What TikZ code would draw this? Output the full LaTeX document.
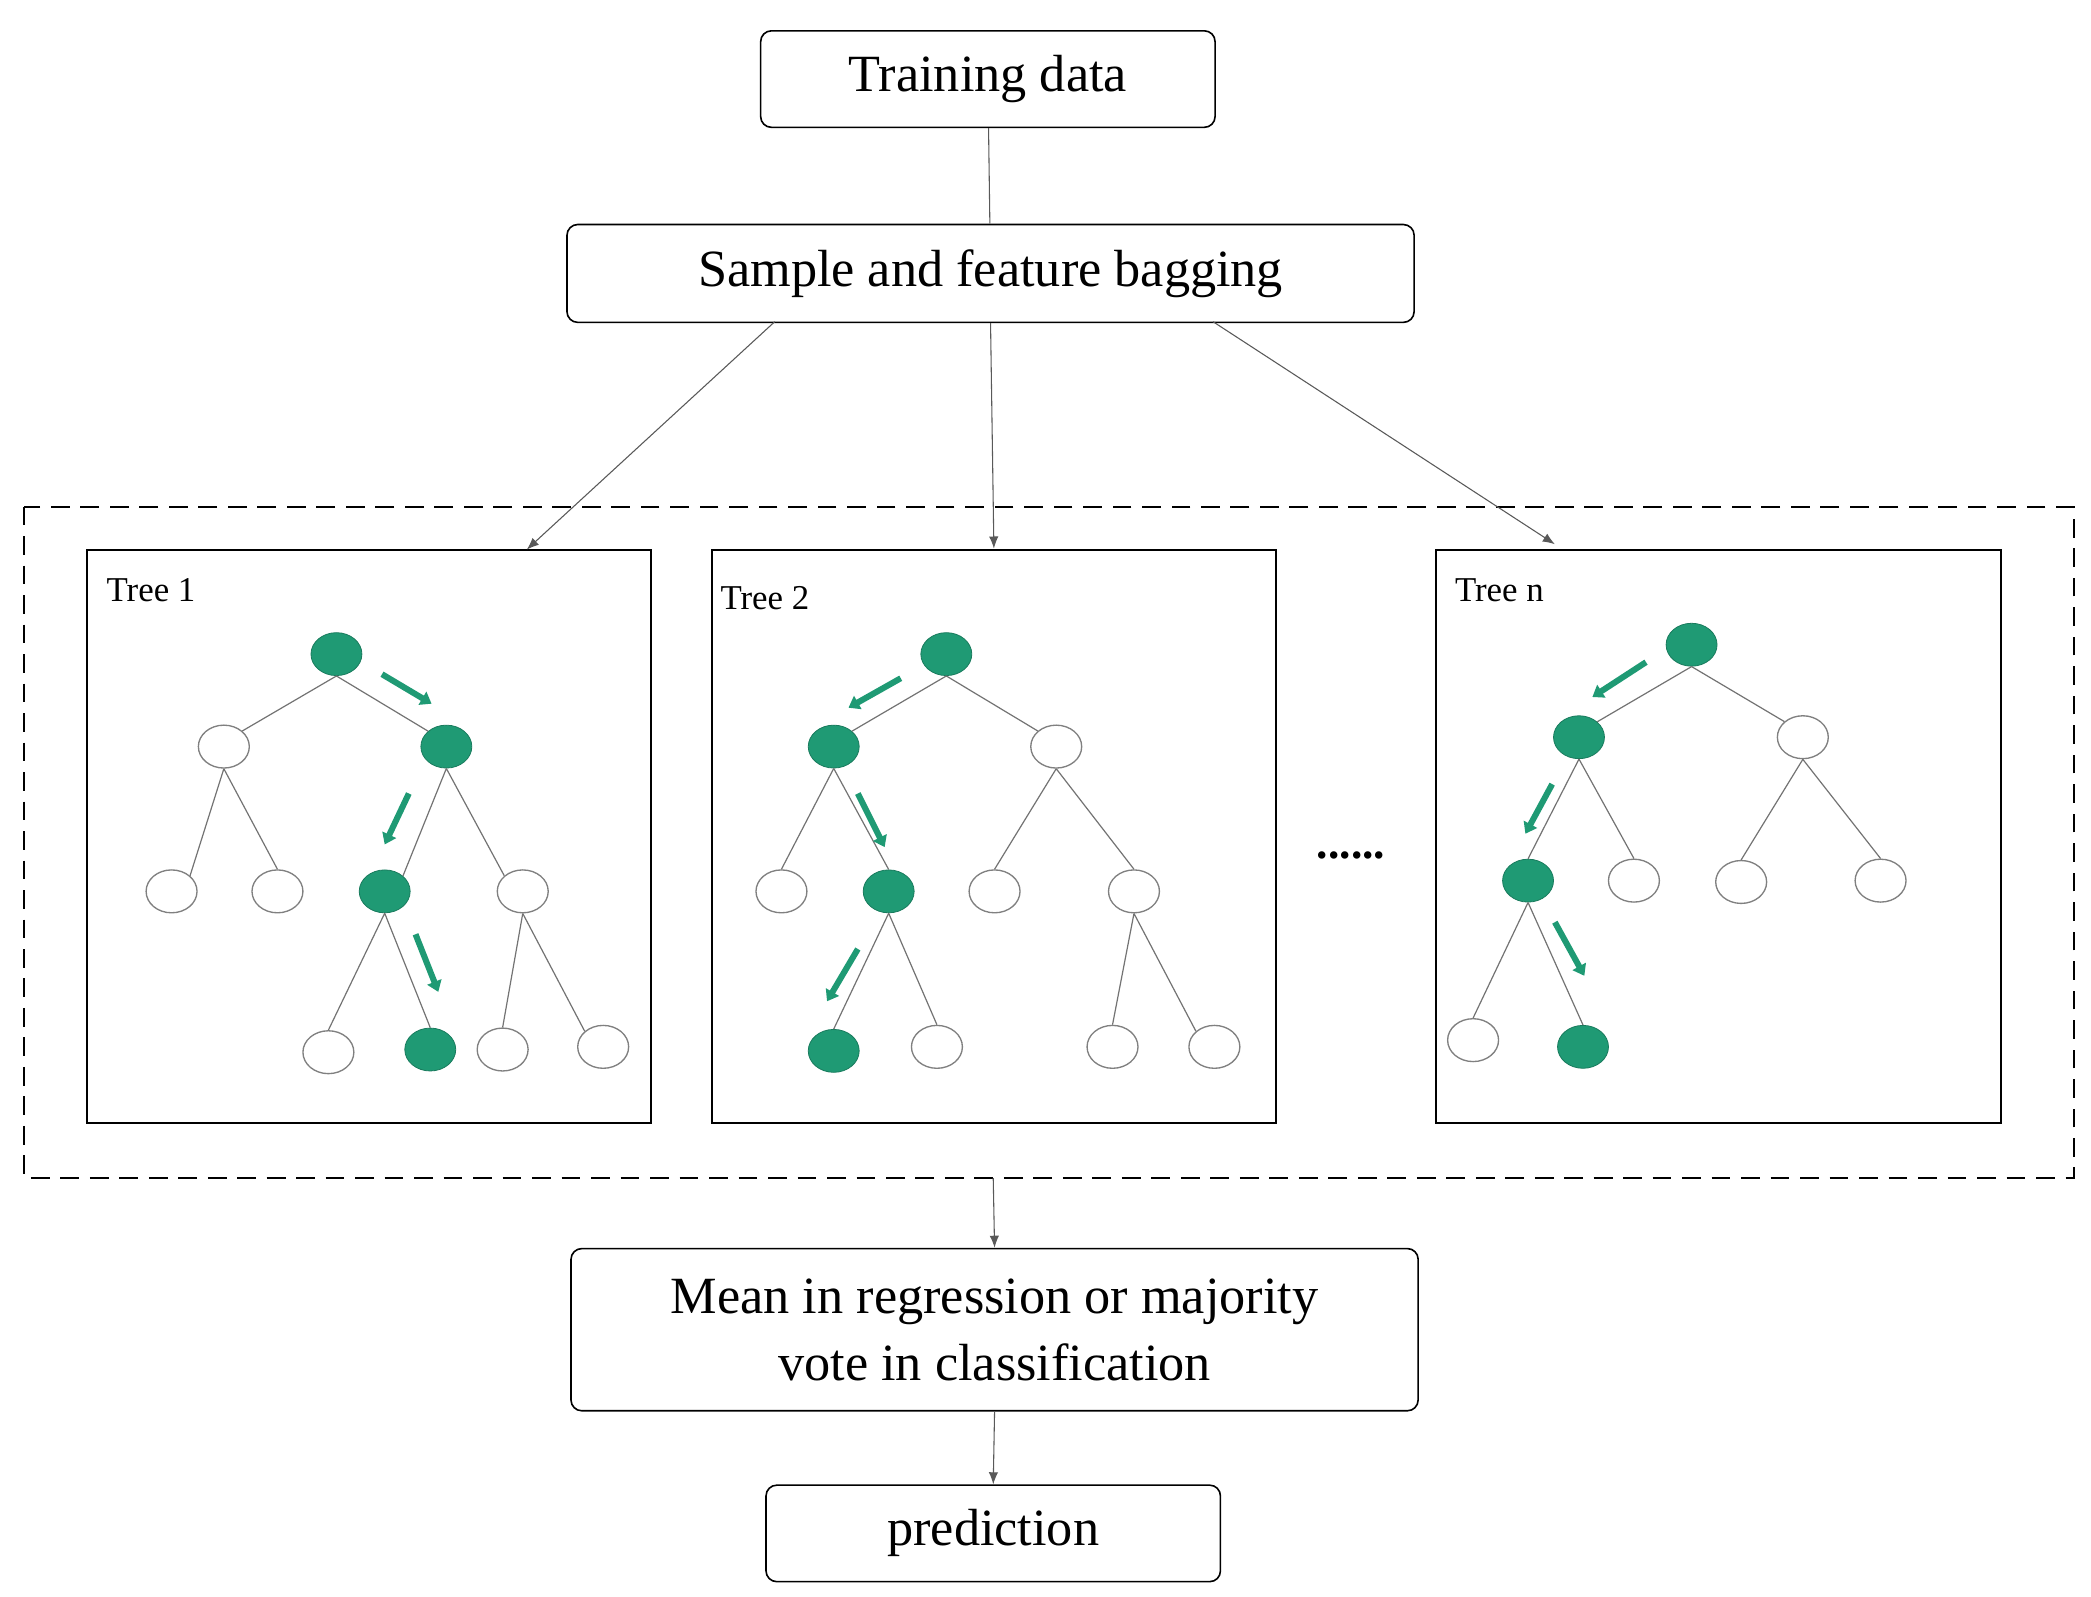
\documentclass[tikz,border=0pt]{standalone}
\usepackage{fontspec}
\setmainfont{Liberation Serif}
\usetikzlibrary{arrows.meta,shapes.geometric}
\definecolor{tg}{HTML}{1F9A74}
\begin{document}
\begin{tikzpicture}[x=1pt,y=-1pt,
 box/.style={draw,rounded corners=8pt,line width=1.2pt,align=center,inner sep=0pt},
 tbox/.style={draw,line width=1.5pt,fill=none},
 wn/.style={ellipse,draw=gray,line width=1pt,fill=white,minimum width=38pt,minimum height=32pt,inner sep=0pt},
 gn/.style={ellipse,draw=tg!80!black,line width=0.6pt,fill=tg,minimum width=38pt,minimum height=32pt,inner sep=0pt},
 ed/.style={draw=gray!90!black,line width=0.9pt},
 ga/.style={draw=tg,line width=4.5pt,-{Triangle[length=8pt,width=11pt]}},
 con/.style={draw=gray!70!black,line width=0.8pt,-{Latex[length=9pt,width=7pt]}},
 lab/.style={anchor=west,font=\fontsize{26}{28}\selectfont}]
\useasboundingbox (0,0) rectangle (1560,1191);
\node[box,minimum width=339pt,minimum height=72pt,font=\fontsize{39}{42}\selectfont] (td) at (737,59) {Training data};
\node[box,minimum width=632pt,minimum height=73pt,font=\fontsize{39}{42}\selectfont] (sb) at (739,204) {Sample and feature bagging};
\node[box,minimum width=632pt,minimum height=121pt,font=\fontsize{39}{50}\selectfont] (mv) at (742,992) {Mean in regression or majority\\vote in classification};
\node[box,minimum width=339pt,minimum height=72pt,font=\fontsize{39}{42}\selectfont] (pr) at (741,1144) {prediction};
\draw[dashed,line width=1.5pt,dash pattern=on 14pt off 8pt] (18,378) rectangle (1547,879);
\coordinate (db) at (741,879);
\node[tbox,minimum width=421pt,minimum height=428pt,inner sep=0pt] (t1) at (275.5,624) {};
\node[tbox,minimum width=421pt,minimum height=428pt,inner sep=0pt] (t2) at (741.5,624) {};
\node[tbox,minimum width=422pt,minimum height=428pt,inner sep=0pt] (tn) at (1282,624) {};
\draw[gray!70!black,line width=0.8pt] (td) -- (sb);
\coordinate (s1) at (578,240); \coordinate (s3) at (905,240);
\coordinate (e1) at (393,410); \coordinate (e3) at (1160,406);
\draw[con] (s1) -- (e1);
\draw[con] (sb.south) -- (t2.north);
\draw[con] (s3) -- (e3);
\draw[con] (db) -- (mv.north);
\draw[con] (mv.south) -- (pr.north);
\node[font=\fontsize{34}{34}\selectfont\bfseries] (dots) at (1008,638) {......};
\node[lab] (l1) at (76,440) {Tree 1};
\node[lab] (l2) at (534,446) {Tree 2};
\node[lab] (ln) at (1082,440) {Tree n};
% Tree 1
\node[gn] (a0) at (251,488) {};
\node[wn] (a1) at (167,557) {}; \node[gn] (a2) at (333,557) {};
\node[wn] (a3) at (128,665) {}; \node[wn] (a4) at (207,665) {};
\node[gn] (a5) at (287,665) {}; \node[wn] (a6) at (390,665) {};
\node[wn] (a7) at (245,785) {}; \node[gn] (a8) at (321,783) {};
\node[wn] (a9) at (375,783) {}; \node[wn] (a10) at (450,781) {};
\draw[ed] (a0.south) -- (a1.north east) (a0.south) -- (a2.north west)
 (a1.south) -- (a3.north east) (a1.south) -- (a4.north)
 (a2.south) -- (a5.north east) (a2.south) -- (a6.north west)
 (a5.south) -- (a7.north) (a5.south) -- (a8.north)
 (a6.south) -- (a9.north) (a6.south) -- (a10.north west);
\coordinate (g1a) at (285,503); \coordinate (g1b) at (322,525);
\coordinate (g2a) at (305,592); \coordinate (g2b) at (287,630);
\coordinate (g3a) at (310,697); \coordinate (g3b) at (327,740);
\draw[ga] (g1a) -- (g1b); \draw[ga] (g2a) -- (g2b); \draw[ga] (g3a) -- (g3b);
% Tree 2
\node[gn] (b0) at (706,488) {};
\node[gn] (b1) at (622,557) {}; \node[wn] (b2) at (788,557) {};
\node[wn] (b3) at (583,665) {}; \node[gn] (b4) at (663,665) {};
\node[wn] (b5) at (742,665) {}; \node[wn] (b6) at (846,665) {};
\node[gn] (b7) at (622,784) {}; \node[wn] (b8) at (699,781) {};
\node[wn] (b9) at (830,781) {}; \node[wn] (b10) at (906,781) {};
\draw[ed] (b0.south) -- (b1.north east) (b0.south) -- (b2.north west)
 (b1.south) -- (b3.north) (b1.south) -- (b4.north)
 (b2.south) -- (b5.north) (b2.south) -- (b6.north)
 (b4.south) -- (b7.north) (b4.south) -- (b8.north)
 (b6.south) -- (b9.north) (b6.south) -- (b10.north west);
\coordinate (h1a) at (672,506); \coordinate (h1b) at (633,528);
\coordinate (h2a) at (640,592); \coordinate (h2b) at (660,632);
\coordinate (h3a) at (640,708); \coordinate (h3b) at (617,747);
\draw[ga] (h1a) -- (h1b); \draw[ga] (h2a) -- (h2b); \draw[ga] (h3a) -- (h3b);
% Tree n
\node[gn] (c0) at (1262,481) {};
\node[gn] (c1) at (1178,550) {}; \node[wn] (c2) at (1345,550) {};
\node[gn] (c3) at (1140,657) {}; \node[wn] (c4) at (1219,657) {};
\node[wn] (c5) at (1299,658) {}; \node[wn] (c6) at (1403,657) {};
\node[wn] (c7) at (1099,776) {}; \node[gn] (c8) at (1181,781) {};
\draw[ed] (c0.south) -- (c1.north east) (c0.south) -- (c2.north west)
 (c1.south) -- (c3.north) (c1.south) -- (c4.north)
 (c2.south) -- (c5.north) (c2.south) -- (c6.north)
 (c3.south) -- (c7.north) (c3.south) -- (c8.north);
\coordinate (k1a) at (1228,494); \coordinate (k1b) at (1188,520);
\coordinate (k2a) at (1158,585); \coordinate (k2b) at (1138,622);
\coordinate (k3a) at (1160,688); \coordinate (k3b) at (1182,728);
\draw[ga] (k1a) -- (k1b); \draw[ga] (k2a) -- (k2b); \draw[ga] (k3a) -- (k3b);
\end{tikzpicture}
\end{document}
